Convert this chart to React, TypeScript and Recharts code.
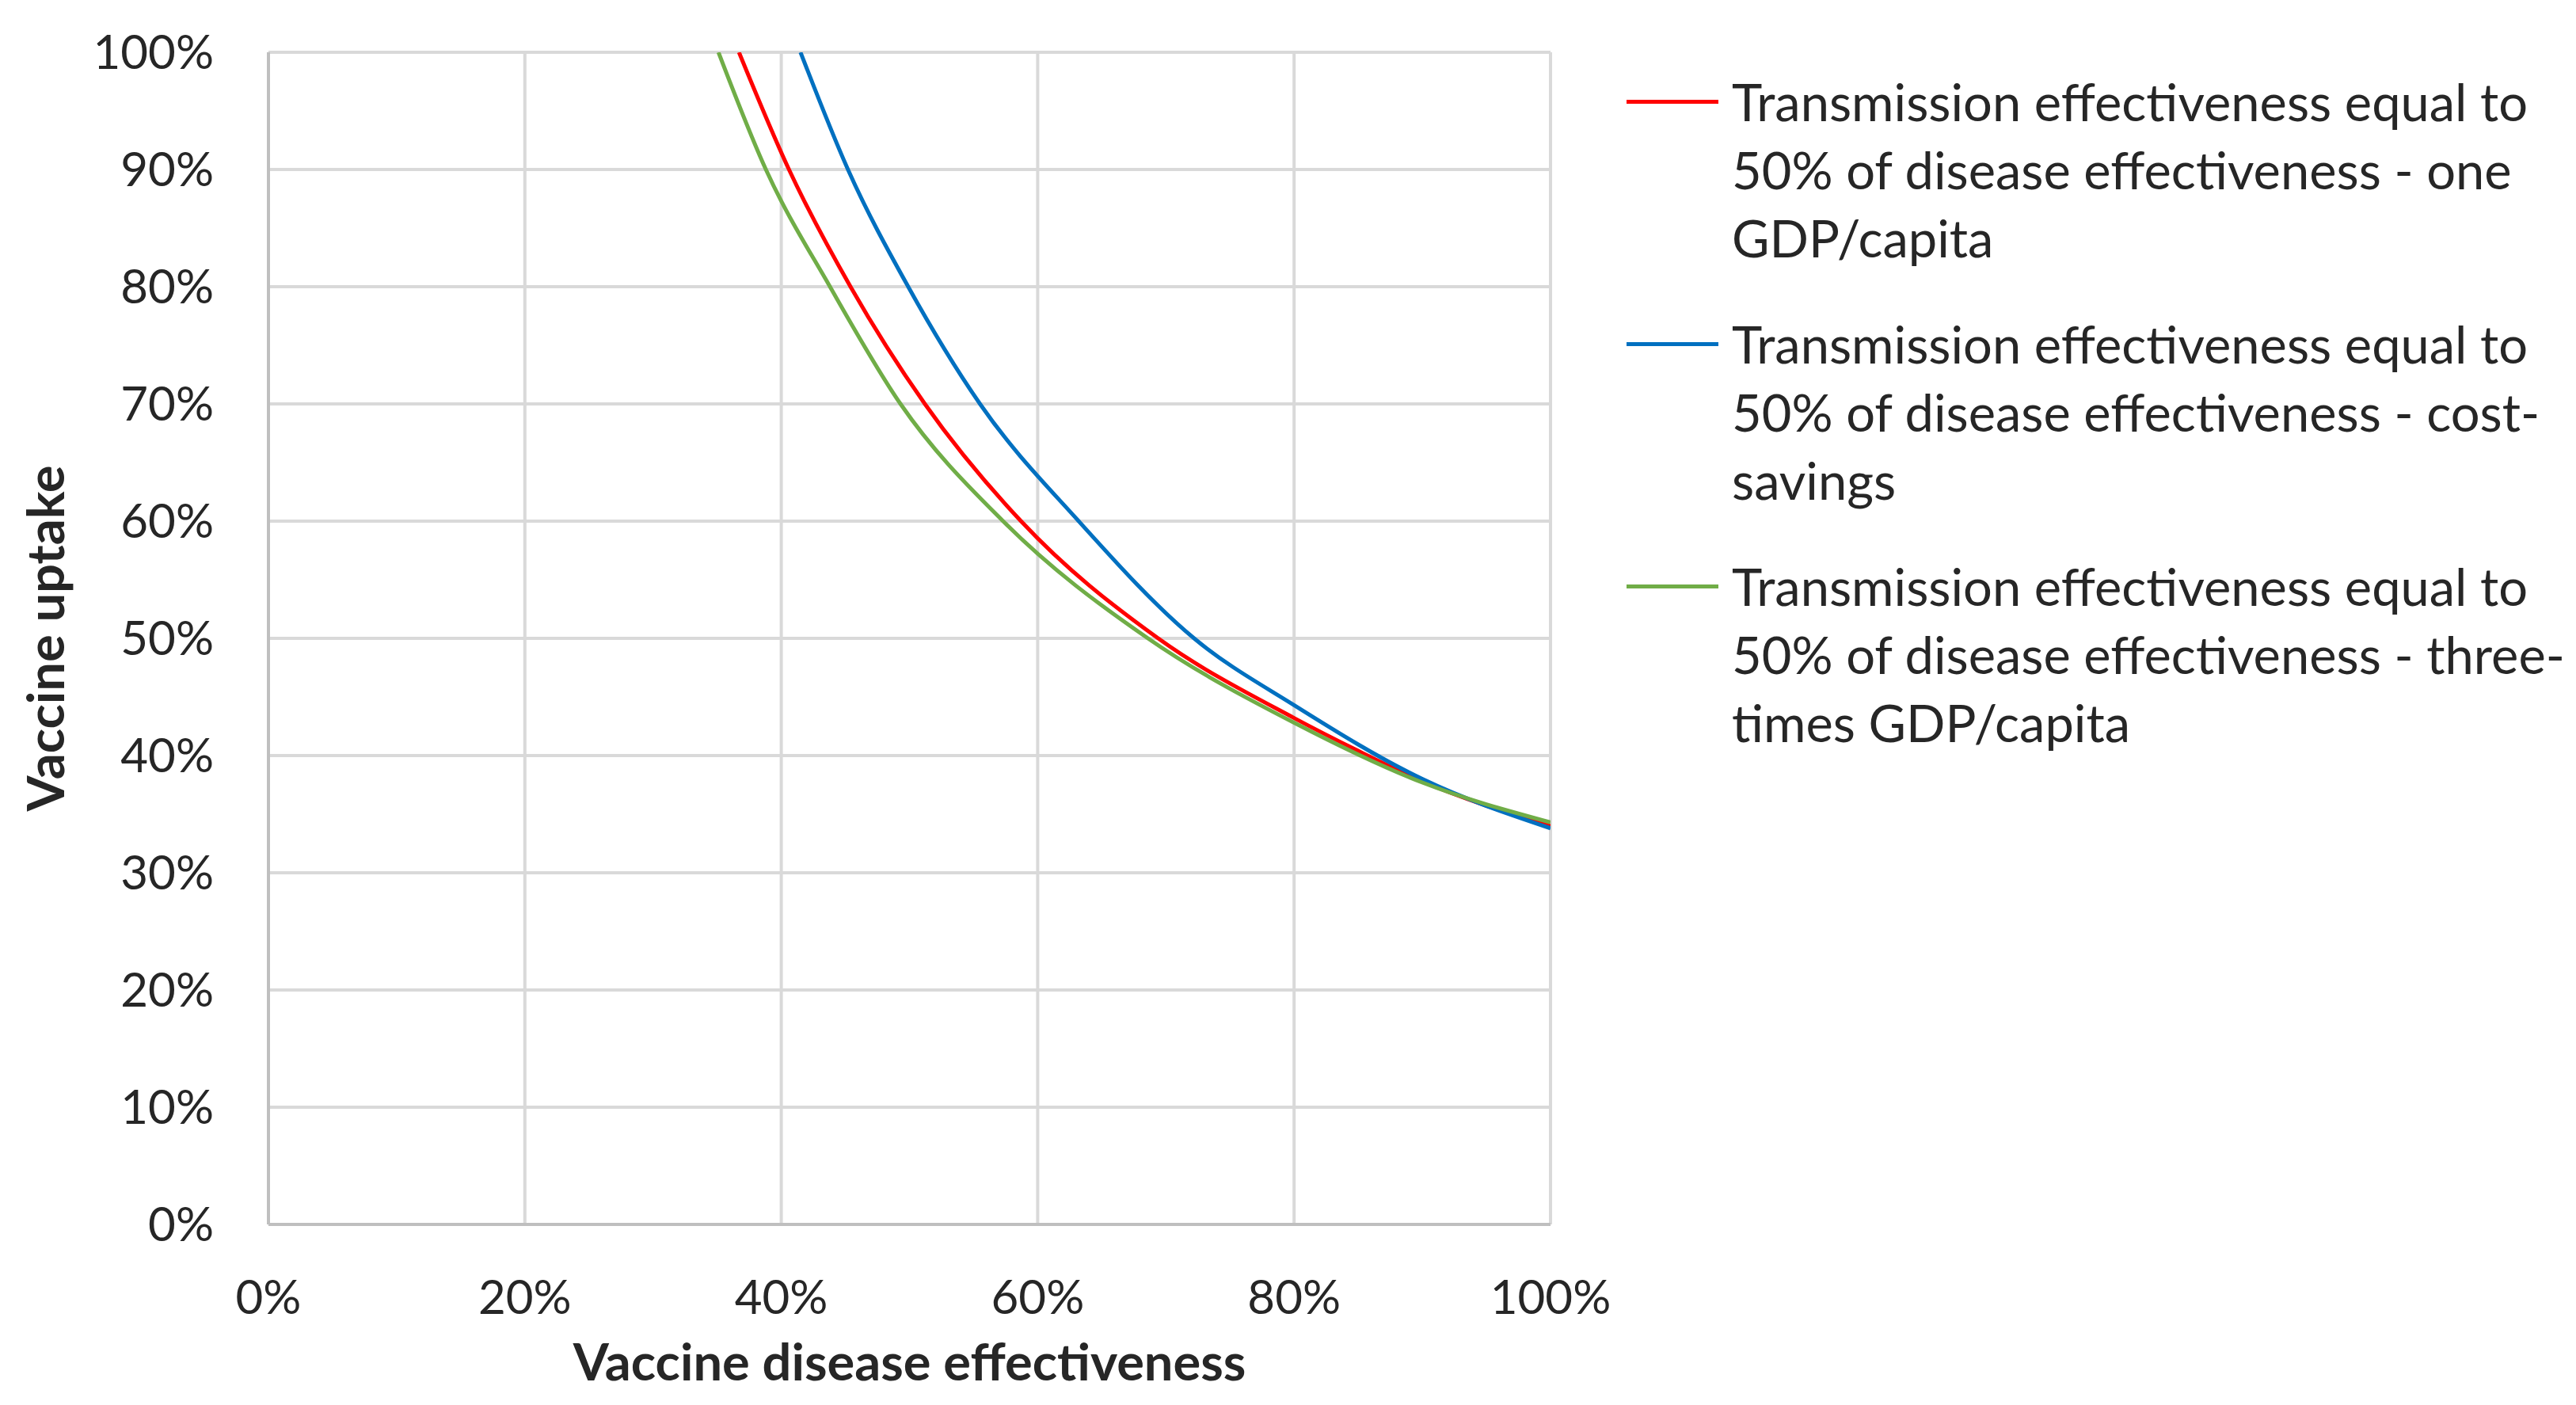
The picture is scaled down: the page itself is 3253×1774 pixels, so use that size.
import React from "react";
import { CartesianGrid, Legend, Line, LineChart, XAxis, YAxis } from "recharts";

// Values (percent units).
const X_TICKS = [0, 20, 40, 60, 80, 100];
const Y_TICKS = [0, 10, 20, 30, 40, 50, 60, 70, 80, 90, 100];

const SERIES_NAMES = [
  "Transmission effectiveness equal to 50% of disease effectiveness - one GDP/capita",
  "Transmission effectiveness equal to 50% of disease effectiveness - cost-savings",
  "Transmission effectiveness equal to 50% of disease effectiveness - three-times GDP/capita",
];
const SERIES_COLORS = ["#ff0000", "#0070c0", "#70ad47"];

const oneGdpX = [36.7, 40.6, 45.4, 51.2, 58.7, 69.4, 80, 85, 90, 100];
const oneGdpY = [100, 90, 80, 70, 60, 50, 43.2, 40.4, 37.8, 34.0];

const costSavingX = [41.5, 45.2, 49.9, 55.5, 63.2, 72.2, 80, 90, 100];
const costSavingY = [100, 90, 80, 70, 60, 50, 44.3, 38.0, 33.8];

const threeGdpX = [35.1, 38.8, 43.8, 49.3, 57.3, 68.6, 80, 90, 100];
const threeGdpY = [100, 90, 80, 70, 60, 50, 42.8, 37.7, 34.3];

const toRows = (xs: number[], ys: number[]) => xs.map((x, i) => ({ x, y: ys[i] }));

const SERIES = [
  toRows(oneGdpX, oneGdpY),
  toRows(costSavingX, costSavingY),
  toRows(threeGdpX, threeGdpY),
];

const FONT = "Lato, 'Open Sans', sans-serif";
const INK = "#262626";

const LegendBox = () => (
  <div style={{ fontFamily: FONT, fontSize: 65, lineHeight: "86px", color: INK }}>
    {SERIES_NAMES.map((name, i) => (
      <div key={name} style={{ display: "flex", marginBottom: 48 }}>
        <div style={{ width: 133, flex: "none", position: "relative" }}>
          <div
            style={{
              position: "absolute",
              left: 0,
              top: 41,
              width: 116,
              height: 5,
              background: SERIES_COLORS[i],
            }}
          />
        </div>
        <div style={{ width: 1065 }}>{name}</div>
      </div>
    ))}
  </div>
);

export default function App() {
  const tick = { fontFamily: FONT, fontSize: 60, fill: INK };

  return (
    <div style={{ width: 3237, height: 1766, background: "#fff" }}>
      <LineChart height={1766} margin={{ top: 58, right: 1287, bottom: 0, left: 0 }} width={3237}>
        <CartesianGrid stroke="#d9d9d9" strokeWidth={4} />
        <XAxis
          allowDataOverflow
          axisLine={{ stroke: "#bfbfbf", strokeWidth: 4 }}
          dataKey="x"
          domain={[0, 100]}
          height={228}
          label={{
            content: ({ viewBox }: any) => (
              <text
                dy="0.36em"
                fill={INK}
                fontFamily={FONT}
                fontSize={65}
                fontWeight={700}
                textAnchor="middle"
                x={viewBox.x + viewBox.width / 2}
                y={viewBox.y + 174}
              >
                Vaccine disease effectiveness
              </text>
            ),
          }}
          tick={tick}
          tickFormatter={(v) => `${v}%`}
          tickLine={false}
          tickMargin={70}
          tickSize={0}
          ticks={X_TICKS}
          type="number"
        />
        <YAxis
          allowDataOverflow
          axisLine={{ stroke: "#bfbfbf", strokeWidth: 4 }}
          domain={[0, 100]}
          label={{
            content: ({ viewBox }: any) => {
              const cx = viewBox.x + 50;
              const cy = viewBox.y + viewBox.height / 2;
              return (
                <text
                  dy="0.36em"
                  fill={INK}
                  fontFamily={FONT}
                  fontSize={65}
                  fontWeight={700}
                  textAnchor="middle"
                  transform={`rotate(-90 ${cx} ${cy})`}
                  x={cx}
                  y={cy}
                >
                  Vaccine uptake
                </text>
              );
            },
          }}
          tick={tick}
          tickFormatter={(v) => `${v}%`}
          tickLine={false}
          tickMargin={69}
          tickSize={0}
          ticks={Y_TICKS}
          type="number"
          width={331}
        />
        <Legend
          align="center"
          content={() => <LegendBox />}
          layout="vertical"
          verticalAlign="middle"
          wrapperStyle={{ left: 2046, top: 77, width: 1198 }}
        />
        {SERIES.map((rows, i) => (
          <Line
            key={SERIES_NAMES[i]}
            data={rows}
            dataKey="y"
            dot={false}
            isAnimationActive={false}
            name={SERIES_NAMES[i]}
            stroke={SERIES_COLORS[i]}
            strokeWidth={5}
            type="monotone"
          />
        ))}
      </LineChart>
    </div>
  );
}
